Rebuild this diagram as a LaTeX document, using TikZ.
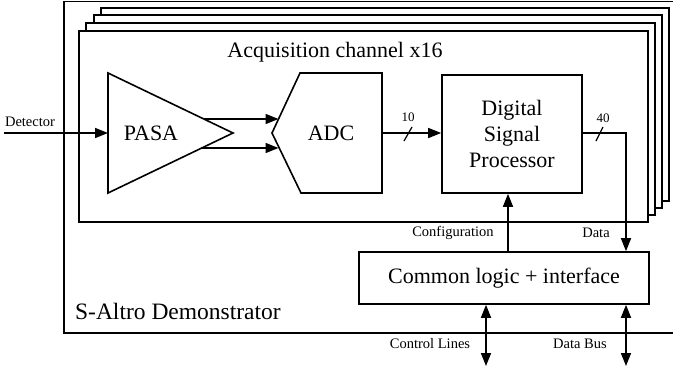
\documentclass[tikz,border=0pt]{standalone}
\usepackage{fontspec}
\setmainfont{Liberation Serif}
\usetikzlibrary{arrows.meta}
\begin{document}
\begin{tikzpicture}[x=1pt,y=-1pt,line width=1.6pt,line join=miter,
  arr/.style={-{Triangle[length=13pt,width=10pt]}},
  dblarr/.style={{Triangle[length=13pt,width=10pt]}-{Triangle[length=13pt,width=10pt]}},
  big/.style={font=\fontsize{22}{26}\selectfont},
  small/.style={font=\fontsize{14.5}{17}\selectfont},
  tiny/.style={font=\fontsize{13}{15}\selectfont},
  chan/.style={draw,fill=white},
  block/.style={draw,fill=white,inner sep=0pt,align=center,big}]
\useasboundingbox (0,0) rectangle (673,368);

% demonstrator frame (open to the right)
\draw (673,1.5) -- (64,1.5) -- (64,333) -- (673,333);
\node[font=\fontsize{23.5}{28}\selectfont,anchor=base west] (demo) at (71,319) {S-Altro Demonstrator};

% stack of acquisition channels
\draw[chan] (101,8) rectangle (669,201);
\draw[chan] (94,15) rectangle (662,208);
\draw[chan] (86,23) rectangle (655,215);
\draw[chan] (79,31) rectangle (648,222);
\node[big] (title) at (335,52) {Acquisition channel x16};

% PASA amplifier
\coordinate (pasaT) at (108,73);
\coordinate (pasaB) at (108,193);
\coordinate (pasaTip) at (233,133);
\coordinate (pasaIn) at (108,133);
\draw (pasaT) -- (pasaTip) -- (pasaB) -- cycle;
\node[big] (pasa) at (151,133) {PASA};

% ADC
\coordinate (adcTL) at (300,73);
\coordinate (adcTR) at (382,73);
\coordinate (adcBR) at (382,193);
\coordinate (adcBL) at (301,193);
\coordinate (adcNotch) at (272,133);
\draw (adcTL) -- (adcTR) -- (adcBR) -- (adcBL) -- (adcNotch) -- cycle;
\node[big] (adc) at (331,133) {ADC};

% differential link PASA -> ADC
\coordinate (pasaO1) at (204,119);
\coordinate (pasaO2) at (202,148);
\coordinate (adcI1) at (278.5,119);
\coordinate (adcI2) at (278.5,148);
\draw[arr] (pasaO1) -- (adcI1);
\draw[arr] (pasaO2) -- (adcI2);

% detector input
\coordinate (det) at (4,133);
\draw[arr] (det) -- (pasaIn);
\node[small] (detlbl) at (30,122) {Detector};

% digital signal processor
\node[block,minimum width=140pt,minimum height=118pt] (dsp) at (512,134)
  {Digital\\Signal\\Processor};

% ADC -> DSP, 10 bits
\coordinate (adcOut) at (382,133);
\draw[arr] (adcOut) -- (dsp.west |- adcOut);
\draw[line width=1.2pt] (404,141) -- (412,127);
\node[tiny] (n10) at (408,117) {10};

% common logic
\node[block,minimum width=290pt,minimum height=52pt] (common) at (504,278)
  {Common logic + interface};

% DSP -> common logic, 40 bits
\coordinate (dataTurn) at (626,133);
\draw[arr] (dsp.east |- dataTurn) -- (dataTurn) -- (dataTurn |- common.north);
\draw[line width=1.2pt] (596,141) -- (603,127);
\node[tiny] (n40) at (603,118) {40};
\node[small] (datalbl) at (596,233) {Data};

% configuration
\coordinate (cfgx) at (508,230);
\draw[arr] (cfgx |- common.north) -- (cfgx |- dsp.south);
\node[small] (cfglbl) at (453,233) {Configuration};

% external buses
\coordinate (ctlEnd) at (486,366);
\coordinate (busEnd) at (626,366);
\draw[dblarr] (ctlEnd |- common.south) -- (ctlEnd);
\draw[dblarr] (busEnd |- common.south) -- (busEnd);
\node[small] (ctllbl) at (430,344) {Control Lines};
\node[small] (buslbl) at (580,344) {Data Bus};
\end{tikzpicture}
\end{document}
